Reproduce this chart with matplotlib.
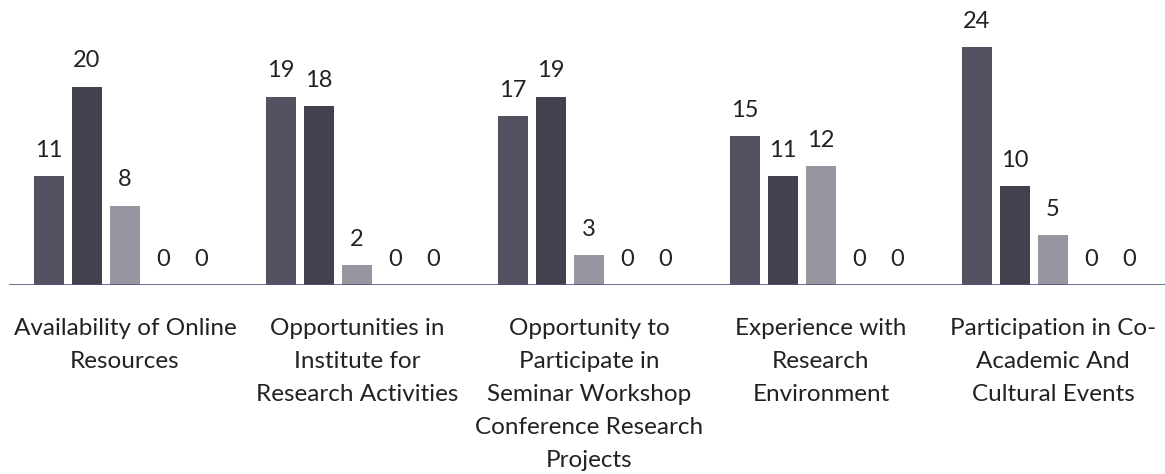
import matplotlib
matplotlib.use("Agg")
import matplotlib.pyplot as plt
import numpy as np

categories = [
    "Availability of Online\nResources",
    "Opportunities in\nInstitute for\nResearch Activities",
    "Opportunity to\nParticipate in\nSeminar Workshop\nConference Research\nProjects",
    "Experience with\nResearch\nEnvironment",
    "Participation in Co-\nAcademic And\nCultural Events",
]
series = [
    [11, 19, 17, 15, 24],
    [20, 18, 19, 11, 10],
    [8, 2, 3, 12, 5],
    [0, 0, 0, 0, 0],
    [0, 0, 0, 0, 0],
]
colors = ["#545262", "#434150", "#9795a0", "#7a7a86", "#bbbbc4"]

plt.rcParams['font.family'] = ['Lato', 'DejaVu Sans']
W, H = 1165, 474
fig = plt.figure(figsize=(W / 100, H / 100), dpi=100)
base_px = 285
ax = fig.add_axes([0, (H - base_px) / H, 1, base_px / H])
ax.set_facecolor("none")

x = np.arange(len(categories))
step = 38 / 232
width = 30 / 232
for i, vals in enumerate(series):
    pos = x + (i - 2) * step
    bars = ax.bar(pos, vals, width=width, color=colors[i], zorder=2)
    for p, v in zip(pos, vals):
        ax.annotate(str(v), (p, v), xytext=(0, 11), textcoords="offset points",
                    ha="center", va="bottom", fontsize=17, color="#222222")

ax.set_xlim(-125 / 232, (W - 125) / 232)
ax.set_ylim(0, base_px / 9.92)
ax.axhline(0, xmin=10 / W, xmax=1, color="#55557a", lw=1.2, zorder=3)
for s in ax.spines.values():
    s.set_visible(False)
ax.set_yticks([])
ax.set_xticks(x)
ax.set_xticklabels(categories, fontsize=17.5, color="#222222", linespacing=1.7)
ax.tick_params(axis="x", length=0, pad=24)

fig.savefig("out.png", dpi=100)
